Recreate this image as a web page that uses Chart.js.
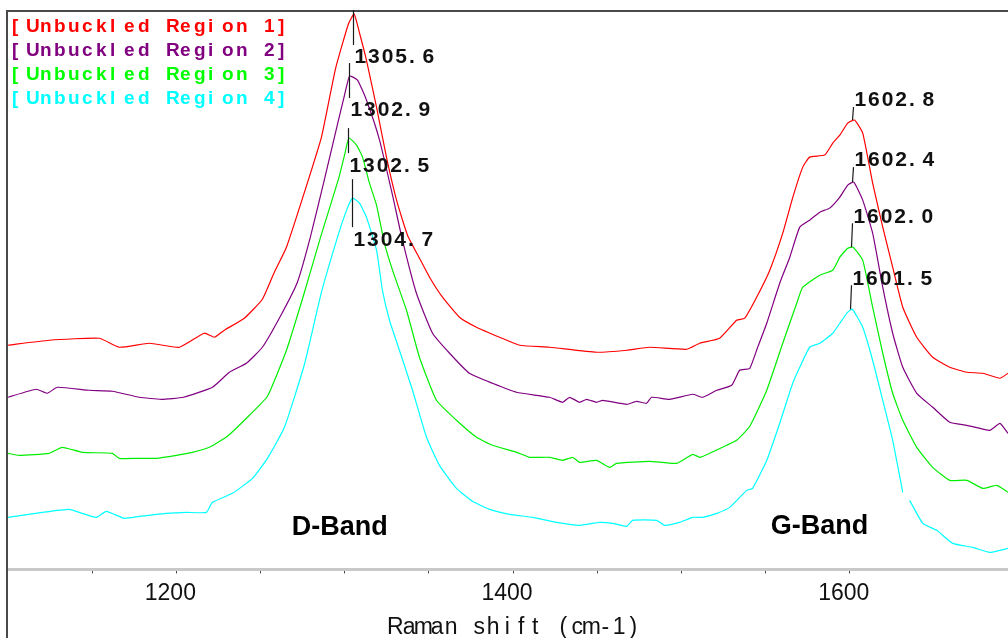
<!DOCTYPE html>
<html><head><meta charset="utf-8">
<script src="https://cdn.jsdelivr.net/npm/chart.js@4.4.0/dist/chart.umd.min.js"></script>
<style>html,body{margin:0;padding:0;background:#fff;overflow:hidden}canvas{display:block}</style>
</head><body>
<canvas id="c" width="1008" height="638"></canvas>
<script>
// ---------- DATA ----------
const seriesNames = ["[Unbuckled Region 1]", "[Unbuckled Region 2]", "[Unbuckled Region 3]", "[Unbuckled Region 4]"];
const seriesColors = ["#ff0000", "#800080", "#00ee00", "#00ffff"];
const legendColors = ["#ff0000", "#800080", "#00ff00", "#00ffff"];

const region1X = [1100,1124.5,1154.2,1166.1,1184.0,1201.8,1216.6,1222.6,1228.5,1240.4,1251.1,1258.2,1265.4,1276.1,1286.2,1294.5,1302.2,1305.6,1308.8,1312.9,1318.9,1324.8,1330.8,1337.3,1344.4,1350.4,1358.1,1368.2,1378.3,1392.0,1403.9,1421.7,1449.6,1467.5,1481.1,1503.1,1510.9,1522.7,1532.8,1537.6,1544.7,1552.5,1560.2,1566.2,1572.1,1576.2,1585.1,1589.9,1594.1,1598.8,1602.8,1607.7,1613.6,1619.6,1625.5,1631.5,1639.8,1649.3,1659.4,1669.5,1679.0,1689.2,1694];
const region1Y = [224,229,231,222,226,222,236,232,239,251,270,297,322,377,432,500,545,555,536,509,462,412,369,334,311,292,272,252,242,232,224,222,217,219,222,220,226,231,249,251,272,299,336,372,402,412,414,426,434,446,449,436,386,342,302,262,232,212,202,197,196,191,196];

const region2X = [1100,1116.8,1123.3,1129.3,1148.3,1162.0,1178.0,1191.1,1204.2,1221.4,1231.5,1241.6,1251.1,1261.8,1271.9,1279.6,1288.0,1296.3,1299.9,1302.9,1307.6,1312.9,1320.7,1328.4,1334.3,1342.6,1352.2,1362.3,1374.1,1387.8,1402.1,1421.7,1429.4,1433.6,1439.5,1443.7,1449.6,1453.2,1467.5,1473.4,1479.3,1482.3,1493.0,1506.7,1512.6,1521.0,1529.9,1534.6,1540.6,1545.3,1550.7,1558.4,1564.4,1570.3,1576.2,1582.2,1588.1,1594.1,1598.8,1602.4,1607.7,1613.6,1619.6,1625.5,1631.5,1639.8,1649.3,1659.4,1669.5,1683.2,1689.2,1694];
const region2Y = [172,180,176,182,179,178,172,170,172,182,197,206,222,253,287,332,390,449,474,493,489,469,429,374,329,276,236,216,196,186,177,172,167,172,167,170,167,169,165,168,166,172,170,175,172,179,184,199,201,222,246,286,312,342,349,357,361,372,384,387,369,336,282,236,202,176,162,147,144,139,146,136];

const region3X = [1100,1106.7,1124.5,1132.2,1144.1,1162.0,1166.1,1178.0,1188.1,1200,1209.5,1219.6,1230.3,1243.4,1254.1,1265.4,1276.1,1286.2,1296.3,1299.9,1302.5,1307.0,1310.6,1314.7,1318.9,1323.6,1328.4,1336.7,1344.4,1354.5,1366.4,1378.3,1387.8,1402.1,1409.8,1421.7,1429.4,1435.4,1439.5,1449.6,1457.4,1461.5,1481.1,1497.2,1506.7,1510.9,1516.8,1526.9,1532.8,1540.6,1550.7,1560.2,1568.5,1572.1,1582.2,1589.9,1594.1,1598.8,1602.0,1607.7,1613.6,1619.6,1625.5,1631.5,1639.8,1649.3,1659.4,1669.5,1679.0,1687.4,1694];
const region3Y = [116,114,116,122,117,116,111,111,111,114,117,122,133,154,173,219,277,335,390,414,431,424,412,386,364,326,299,259,212,169,149,132,124,117,112,112,109,112,107,109,102,106,108,106,115,112,116,124,129,143,179,226,266,282,294,299,312,321,322,309,262,216,176,149,122,102,89,89,81,84,77];

const region4X = [1100,1120.4,1136.4,1144.1,1152.5,1158.4,1169.1,1178.0,1194.1,1205.9,1217.8,1221.4,1233.3,1245.2,1254.1,1264.2,1276.1,1286.2,1296.3,1301.6,1304.7,1308.8,1312.9,1318.9,1322.4,1326.6,1332.5,1340.3,1348.6,1356.3,1366.4,1375.9,1386.0,1397.9,1411.6,1425.9,1439.5,1451.4,1459.1,1467.5,1471.0,1485.3,1490.0,1498.9,1506.7,1512.6,1521.0,1528.7,1538.8,1542.3,1550.7,1558.4,1566.1,1570.3,1576.2,1582.2,1589.9,1594.1,1598.8,1601.5,1607.7,1613.6,1619.6,1625.5,1631.5,1633,1635.6,1643.4,1651.7,1661.2,1673.1,1683.2,1694];
const region4Y = [52,57,60,56,52,58,51,53,56,57,57,67,76,91,111,142,205,277,335,361,371,366,352,319,279,249,219,179,132,104,81,68,60,55,52,47,44,47,46,43,49,49,44,47,52,52,56,62,79,81,109,146,186,202,222,226,236,246,257,260,242,209,169,129,77,null,69,46,39,26,22,17,21];

const dBandPeaks = [1305.6, 1302.9, 1302.5, 1304.7];
const gBandPeaks = [1602.8, 1602.4, 1602.0, 1601.5];
const dBandLabels = ["1305.6", "1302.9", "1302.5", "1304.7"];
const gBandLabels = ["1602.8", "1602.4", "1602.0", "1601.5"];

const xMin = 1100, xMax = 1694;
const majorTickLabels = [1200, 1400, 1600];
const xTitle = "Raman shift (cm-1)";
const bandNames = ["D-Band", "G-Band"];
const bandNamePos = [[1297, 42], [1582, 43]];

// ---------- BUILD ----------
const allX = [region1X, region2X, region3X, region4X];
const allY = [region1Y, region2Y, region3Y, region4Y];
const datasets = allX.map((xs, i) => ({
  label: seriesNames[i],
  data: xs.map((x, k) => ({x: x, y: allY[i][k]})),
  borderColor: seriesColors[i],
  borderWidth: 1.2,
  pointRadius: 0,
  tension: 0.15,
  spanGaps: false,
  fill: false
}));

// marker geometry (pixel offsets relative to each peak)
const dMark = [[4,31,43],[13,22,34],[10,15,28],[19,29,42]];
const gMark = [[13,20],[15,22],[24,30],[24,30]];

function pitchText(ctx, s, x, y, pitch) {
  for (let i = 0; i < s.length; i++) ctx.fillText(s[i], x + i * pitch, y);
}
function peakY(i, lo, hi) {
  let m = -1e9;
  allX[i].forEach((x, k) => { const v = allY[i][k]; if (x >= lo && x <= hi && v != null && v > m) m = v; });
  return m;
}

const deco = {
  id: 'deco',
  afterDraw(chart) {
    const {ctx, chartArea: ca, scales} = chart;
    const xs = scales.x, ys = scales.y;
    ctx.save();
    // frame
    ctx.strokeStyle = '#4a4a4a'; ctx.lineWidth = 2;
    ctx.beginPath(); ctx.moveTo(ca.left - 1, chart.height); ctx.lineTo(ca.left - 1, ca.top + 1); ctx.lineTo(chart.width, ca.top + 1); ctx.stroke();

    // legend
    ctx.font = 'bold 19px "Liberation Sans", Arial, sans-serif';
    ctx.textAlign = 'left'; ctx.textBaseline = 'middle';
    seriesNames.forEach((n, i) => { ctx.fillStyle = legendColors[i]; pitchText(ctx, n, ca.left + 4, ca.top + 17 + i * 24, 14); });

    // peak markers
    ctx.strokeStyle = '#1a1a1a'; ctx.lineWidth = 1.2; ctx.fillStyle = '#111';
    ctx.font = 'bold 21px "Liberation Sans", Arial, sans-serif';
    for (let i = 0; i < 4; i++) {
      const px = Math.round(xs.getPixelForValue(dBandPeaks[i])) - 0.5;
      const py = ys.getPixelForValue(peakY(i, 1280, 1330));
      const [a, b, l] = dMark[i];
      ctx.beginPath(); ctx.moveTo(px, py - a); ctx.lineTo(px, py + b); ctx.stroke();
      pitchText(ctx, dBandLabels[i], px + 1, py + l, 13.6);

      const gx = Math.round(xs.getPixelForValue(gBandPeaks[i])) - 1.5;
      const gy = ys.getPixelForValue(peakY(i, 1580, 1620));
      const [c, d] = gMark[i];
      ctx.beginPath(); ctx.moveTo(gx + 1, gy - c); ctx.lineTo(gx, gy); ctx.stroke();
      pitchText(ctx, gBandLabels[i], gx + 2, gy - d, 13.6);
    }

    // band names
    ctx.font = 'bold 27px "Liberation Sans", Arial, sans-serif';
    ctx.textAlign = 'center'; ctx.fillStyle = '#000';
    bandNames.forEach((n, i) => ctx.fillText(n, xs.getPixelForValue(bandNamePos[i][0]), ys.getPixelForValue(bandNamePos[i][1])));

    // x title (fixed pitch)
    ctx.font = '23px "Liberation Sans", Arial, sans-serif';
    ctx.fillStyle = '#111'; ctx.textAlign = 'center'; ctx.textBaseline = 'alphabetic';
    const tStart = xs.getPixelForValue(1330);
    for (let k = 0; k < xTitle.length; k++) ctx.fillText(xTitle[k], tStart + k * 14, 634);
    ctx.restore();
  }
};

new Chart(document.getElementById('c'), {
  type: 'line',
  data: {datasets},
  options: {
    responsive: false,
    animation: false,
    devicePixelRatio: 1,
    layout: {padding: {left: 8, right: 0, top: 10, bottom: 25}},
    plugins: {legend: {display: false}, tooltip: {enabled: false}},
    scales: {
      x: {
        type: 'linear', min: xMin, max: xMax,
        border: {display: true, color: '#c8c8c8', width: 3},
        grid: {drawOnChartArea: false, drawTicks: true, tickLength: 4, tickColor: '#444', lineWidth: 1},
        afterBuildTicks: (s) => { s.ticks = s.ticks.filter(t => t.value % 50 === 0 && t.value > xMin); },
        ticks: {
          stepSize: 50, autoSkip: false, maxRotation: 0, padding: 6, labelOffset: -6,
          color: '#111', font: {family: '"Liberation Sans", Arial, sans-serif', size: 23},
          callback: (v) => majorTickLabels.includes(v) ? String(v) : ''
        }
      },
      y: {display: false, min: 0, max: 559}
    }
  },
  plugins: [deco]
});
</script>
</body></html>
